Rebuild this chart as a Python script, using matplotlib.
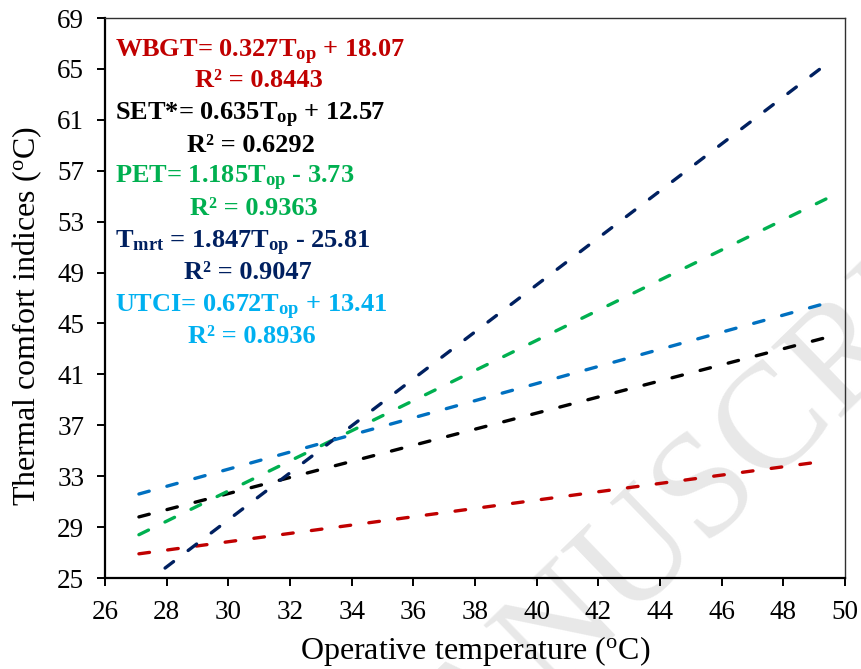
import numpy as np
import matplotlib
matplotlib.use('Agg')
import matplotlib.pyplot as plt

plt.rcParams['font.family'] = 'Liberation Serif'
plt.rcParams['mathtext.fontset'] = 'custom'
plt.rcParams['mathtext.rm'] = 'Liberation Serif'
plt.rcParams['mathtext.bf'] = 'Liberation Serif:bold'
plt.rcParams['mathtext.it'] = 'Liberation Serif:italic'

# trend lines (start / end points)
names = ['WBGT', 'SET*', 'PET', 'Tmrt', 'UTCI']
x_start = [27.1, 27.1, 27.1, 27.2, 27.1]
x_end = [49.1, 49.4, 49.4, 49.3, 49.4]
y_start = [26.9, 29.8, 28.4, 24.4, 31.6]
y_end = [34.1, 43.9, 54.8, 65.2, 46.6]
line_colors = ['#C00000', '#000000', '#00B050', '#002060', '#0070C0']

# equation labels
eq_texts = [r'WBGT= 0.327T$_{\mathbf{op}}$ + 18.07',
            r'SET*= 0.635T$_{\mathbf{op}}$ + 12.57',
            r'PET= 1.185T$_{\mathbf{op}}$ - 3.73',
            r'T$_{\mathbf{mrt}}$ = 1.847T$_{\mathbf{op}}$ - 25.81',
            r'UTCI= 0.672T$_{\mathbf{op}}$ + 13.41']
r2_texts = ['R² = 0.8443', 'R² = 0.6292', 'R² = 0.9363', 'R² = 0.9047', 'R² = 0.8936']
text_colors = ['#C00000', '#000000', '#00B050', '#002060', '#00B0F0']

xticks = np.arange(26, 51, 2)
yticks = np.arange(25, 70, 4)

W, H = 862, 669
fig = plt.figure(figsize=(W / 100, H / 100), dpi=100)
ax = fig.add_axes([105 / W, 1 - 578 / H, 740 / W, 560 / H])

# faint watermark behind everything
fig.text(375 / W, 1 - 863 / H, 'MANUSCRIPT', fontsize=108, color='#E8E8E8',
         rotation=44, rotation_mode='anchor', ha='left', va='baseline', zorder=-1)
ax.patch.set_alpha(0)

for i in range(len(names)):
    ln, = ax.plot([x_start[i], x_end[i]], [y_start[i], y_end[i]],
                  color=line_colors[i], lw=2.4)
    ln.set_dashes((3.2, 5.5))
    ln.set_dash_capstyle('round')

ax.set_xlim(26, 50)
ax.set_ylim(25, 69)
ax.set_xticks(xticks)
ax.set_yticks(yticks)
ax.tick_params(axis='both', labelsize=19.5, length=6, width=1.4, direction='out', pad=9)
ax.tick_params(axis='x', pad=10)
for s in ['left', 'bottom']:
    ax.spines[s].set_linewidth(1.6)
for s in ['top', 'right']:
    ax.spines[s].set_linewidth(1.0)
    ax.spines[s].set_color('#303030')

ax.set_xlabel(r'Operative temperature ($^{\mathrm{o}}$C)', fontsize=23, labelpad=6)
ax.set_ylabel(r'Thermal comfort indices ($^{\mathrm{o}}$C)', fontsize=23)
ax.yaxis.set_label_coords(-0.082, 0.468)

eq_x = 115
r2_x = [195, 187, 190, 184, 188]
eq_y = [57, 120, 183, 248, 312]
r2_y = [87, 152, 215, 279, 343]
for i in range(len(names)):
    fig.text(eq_x / W, 1 - eq_y[i] / H, eq_texts[i], color=text_colors[i],
             fontsize=19, fontweight='bold', ha='left', va='baseline')
    fig.text(r2_x[i] / W, 1 - r2_y[i] / H, r2_texts[i], color=text_colors[i],
             fontsize=19, fontweight='bold', ha='left', va='baseline')

fig.savefig('out.png', dpi=100)
